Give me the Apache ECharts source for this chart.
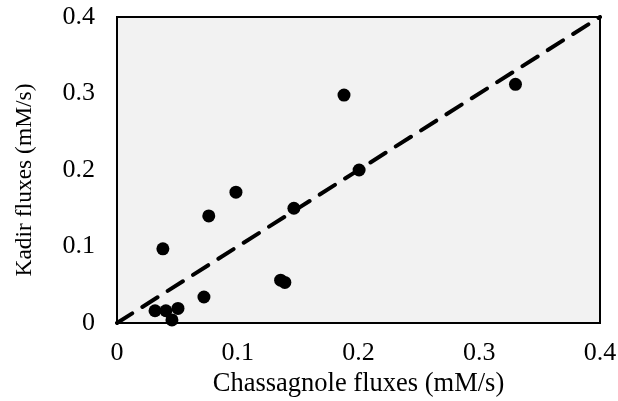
<!DOCTYPE html>
<html><head><meta charset="utf-8">
<script src="https://cdn.jsdelivr.net/npm/echarts@6/dist/echarts.min.js"></script>
<style>html,body{margin:0;padding:0;background:#fff}#c{width:618px;height:401px}</style>
</head><body><div id="c"></div>
<script>
const chassagnole = [0.0315, 0.0405, 0.0505, 0.0455, 0.038, 0.072, 0.076, 0.0985, 0.1355, 0.139, 0.1465, 0.2005, 0.188, 0.330];
const kadir       = [0.016, 0.016, 0.019, 0.004, 0.097, 0.034, 0.140, 0.171, 0.056, 0.053, 0.150, 0.200, 0.298, 0.312];
const diagonal = [[0, 0], [0.4, 0.4]];
const xTitle = 'Chassagnole fluxes (mM/s)';
const yTitle = 'Kadir fluxes (mM/s)';

const font = '"Liberation Serif", "Times New Roman", serif';
const chart = echarts.init(document.getElementById('c'));
chart.setOption({
  animation: false,
  grid: { left: 117, top: 17, right: 18, bottom: 78, outerBoundsMode: 'none', containLabel: false,
    show: true, backgroundColor: '#f2f2f2', borderColor: '#000', borderWidth: 2 },
  xAxis: {
    type: 'value', min: 0, max: 0.4, interval: 0.1,
    name: xTitle, nameLocation: 'middle', nameGap: 48,
    nameTextStyle: { fontFamily: font, fontSize: 26.5, color: '#000' },
    axisLine: { show: true, lineStyle: { color: '#000', width: 2 } },
    axisTick: { show: false }, splitLine: { show: false },
    axisLabel: { fontFamily: font, fontSize: 26, color: '#000', margin: 17,
      formatter: v => v === 0 ? '0' : String(+v.toFixed(1)) }
  },
  yAxis: {
    type: 'value', min: 0, max: 0.4, interval: 0.1,
    name: yTitle, nameLocation: 'middle', nameGap: 80,
    nameTextStyle: { fontFamily: font, fontSize: 23.5, color: '#000', padding: [0, 20, 0, 0] },
    axisLine: { show: true, lineStyle: { color: '#000', width: 2 } },
    axisTick: { show: false }, splitLine: { show: false },
    axisLabel: { fontFamily: font, fontSize: 26, color: '#000', margin: 22,
      formatter: v => v === 0 ? '0' : String(+v.toFixed(1)) }
  },
  series: [
    { type: 'line', data: diagonal, symbol: 'none', silent: true,
      lineStyle: { color: '#000', width: 4, type: [18, 12], cap: 'round' }, z: 3 },
    { type: 'scatter', data: chassagnole.map((x, i) => [x, kadir[i]]),
      symbol: 'circle', symbolSize: 13, itemStyle: { color: '#000', opacity: 1 }, z: 4 }
  ]
});
</script></body></html>
